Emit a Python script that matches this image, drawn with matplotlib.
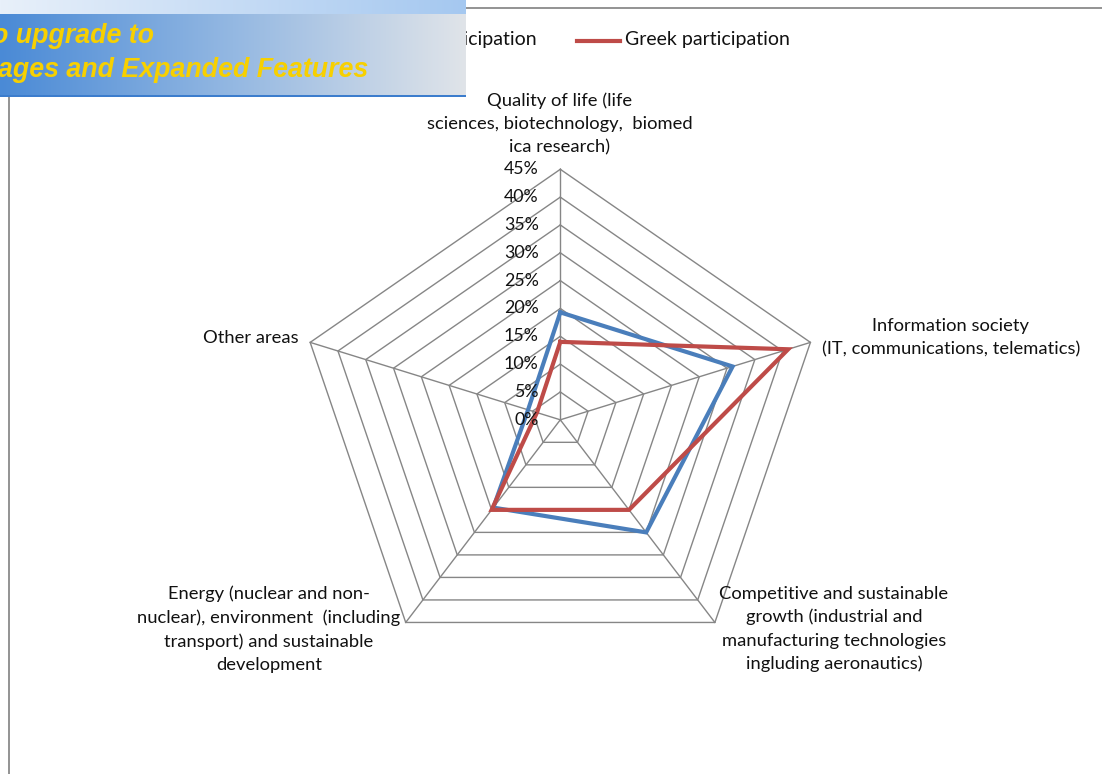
import numpy as np
import matplotlib
matplotlib.use("Agg")
import matplotlib.pyplot as plt
from matplotlib.lines import Line2D
from matplotlib.patches import Rectangle

# ── Data ──────────────────────────────────────────────────────────────────────
categories = [
    "Quality of life (life\nsciences, biotechnology,  biomed\nica research)",
    "Information society\n(IT, communications, telematics)",
    "Competitive and sustainable\ngrowth (industrial and\nmanufacturing technologies\ningluding aeronautics)",
    "Energy (nuclear and non-\nnuclear), environment  (including\ntransport) and sustainable\ndevelopment",
    "Other areas",
]
eu_share = [19.3, 31.0, 25.0, 19.5, 5.8]
greek_share = [14.0, 41.0, 20.0, 20.0, 4.2]
series_labels = ["EU participation", "Greek participation"]
ticks = [0, 5, 10, 15, 20, 25, 30, 35, 40, 45]

# ── Layout (pixels) ───────────────────────────────────────────────────────────
W, H = 1102, 774
CX, CY = 560.3, 419.8
SX, SY = 263 / 45, 250.5 / 45
BLUE = "#4a7ebb"
RED = "#be4b48"
GRID = "#868686"
FONT = "Lato"
FS = 13.2


def fpx(x, y):
    """pixel (from top-left) -> figure fraction"""
    return x / W, 1 - y / H


fig = plt.figure(figsize=(W / 100, H / 100), dpi=100)
ax = fig.add_axes([0, 0, 1, 1])
ax.set_xlim(-CX / SX, (W - CX) / SX)
ax.set_ylim(-(H - CY) / SY, CY / SY)
ax.axis("off")

theta = np.deg2rad(90 - 72 * np.arange(len(categories)))


def to_xy(vals):
    vals = np.asarray(vals, dtype=float)
    x = vals * np.cos(theta)
    y = vals * np.sin(theta)
    return np.append(x, x[0]), np.append(y, y[0])


# grid rings and spokes
for t in ticks[1:]:
    gx, gy = to_xy([t] * len(categories))
    ax.plot(gx, gy, color=GRID, lw=1.0, zorder=1)
for th in theta:
    ax.plot([0, ticks[-1] * np.cos(th)], [0, ticks[-1] * np.sin(th)],
            color=GRID, lw=1.0, zorder=1)

# series
bx, by = to_xy(eu_share)
ax.plot(bx, by, color=BLUE, lw=3.0, zorder=3, solid_joinstyle="miter")
rx, ry = to_xy(greek_share)
ax.plot(rx, ry, color=RED, lw=3.0, zorder=4, solid_joinstyle="miter")

# radial tick labels
for t in ticks:
    ax.text(-3.7, t, f"{t}%", ha="right", va="center", fontsize=12.8,
            family=FONT, color="#111111", zorder=5)

# category labels
label_pos = [(560, 124, "center"), (951, 338, "center"), (834, 629, "center"),
             (269, 629, "center"), (299, 338, "right")]
for lab, (px, py, ha) in zip(categories, label_pos):
    ax.text(*fpx(px, py), lab, transform=fig.transFigure, ha=ha, va="center",
            ma="center", fontsize=FS, family=FONT, color="#111111",
            linespacing=1.54)

# legend (drawn in main axes so the banner covers it)
ax.add_line(Line2D([326 / W, 369 / W], [1 - 41 / H] * 2, transform=fig.transFigure,
                   color=BLUE, lw=3.0))
ax.text(*fpx(537, 40), series_labels[0], transform=fig.transFigure, ha="right",
        va="center", fontsize=14, family=FONT, color="#111111")
ax.add_line(Line2D([577 / W, 620 / W], [1 - 41 / H] * 2, transform=fig.transFigure,
                   color=RED, lw=3.0))
ax.text(*fpx(625, 40), series_labels[1], transform=fig.transFigure, ha="left",
        va="center", fontsize=14, family=FONT, color="#111111")

# chart area border
ax.add_patch(Rectangle(fpx(9, H + 5), (W + 10) / W, (H - 3) / H,
                       transform=fig.transFigure, fill=False, ec="#8a8a8a",
                       lw=1.3, clip_on=False))

# ── Watermark banner ──────────────────────────────────────────────────────────
bax = fig.add_axes([0, 1 - 97 / H, 466 / W, 97 / H], zorder=5)
bax.axis("off")
n = 256
s = np.linspace(0, 1, n)
main_l = np.array([74, 138, 214]) / 255
main_m = np.array([148, 184, 226]) / 255
main_r = np.array([224, 228, 233]) / 255
top_l = np.array([232, 240, 250]) / 255
top_r = np.array([165, 200, 240]) / 255
rows = []
for yy in range(97):
    if yy < 14:
        row = top_l[None, :] * (1 - s[:, None]) + top_r[None, :] * s[:, None]
    elif yy >= 95:
        row = np.tile(np.array([60, 125, 205]) / 255, (n, 1))
    else:
        a = np.clip(s * 2, 0, 1)[:, None]
        b = np.clip(s * 2 - 1, 0, 1)[:, None]
        row = np.where(s[:, None] < 0.5,
                       main_l * (1 - a) + main_m * a,
                       main_m * (1 - b) + main_r * b)
    rows.append(row)
grad = np.array(rows)
bax.imshow(grad, aspect="auto", extent=(0, 1, 0, 1), interpolation="bilinear")
bax.set_xlim(0, 1)
bax.set_ylim(0, 1)

fig.text(*fpx(153.6, 43), "Click Here to upgrade to", ha="right", va="baseline",
         fontsize=19.3, family="Liberation Sans", weight="bold", style="italic",
         color="#f7d000", zorder=10)
fig.text(*fpx(368, 77), "Unlimited Pages and Expanded Features", ha="right",
         va="baseline", fontsize=19.3, family="Liberation Sans", weight="bold",
         style="italic", color="#f7d000", zorder=10)

fig.savefig("out.png", dpi=100)
